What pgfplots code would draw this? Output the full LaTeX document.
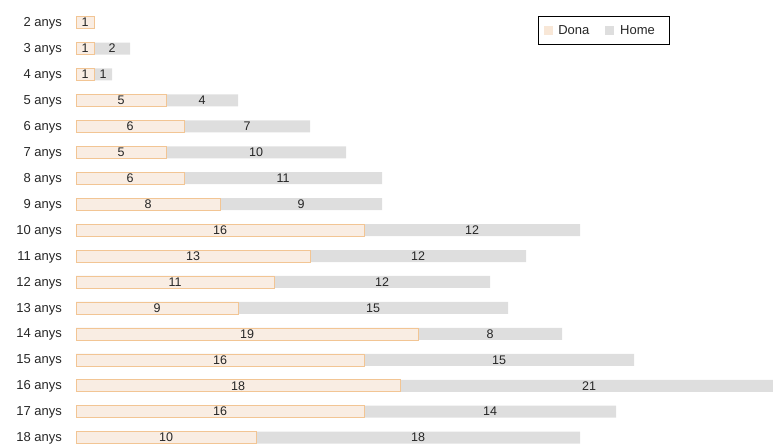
\documentclass[border=0pt]{standalone}
\usepackage{pgfplots}
\pgfplotsset{compat=1.18}
\usepackage{pgfplotstable}
\usepackage{fontspec}
\setmainfont{Liberation Sans}
\definecolor{donafill}{HTML}{F9EDE3}
\definecolor{donaedge}{HTML}{F2C594}
\definecolor{homefill}{HTML}{DEDEDE}
\pgfplotstableread{
y d h tot dmid
0 1 0 1 0.5
1 1 2 3 0.5
2 1 1 2 0.5
3 5 4 9 2.5
4 6 7 13 3
5 5 10 15 2.5
6 6 11 17 3
7 8 9 17 4
8 16 12 28 8
9 13 12 25 6.5
10 11 12 23 5.5
11 9 15 24 4.5
12 19 8 27 9.5
13 16 15 31 8
14 18 21 39 9
15 16 14 30 8
16 10 18 28 5
}\data
\pgfplotstableread{
y h hmid
1 2 2
2 1 1.5
3 4 7
4 7 9.5
5 10 10
6 11 11.5
7 9 12.5
8 12 22
9 12 19
10 12 17
11 15 16.5
12 8 23
13 15 23.5
14 21 28.5
15 14 23
16 18 19
}\homelab
\begin{document}
\begin{tikzpicture}
\useasboundingbox (0,0) rectangle (773pt,447pt);
\begin{axis}[
  at={(76pt,-3.6pt)}, anchor=south west,
  scale only axis, width=697pt, height=441pt,
  xmin=0, xmax=38.72, ymin=-0.5, ymax=16.5,
  y dir=reverse,
  axis line style={draw=none},
  clip=false,
  ytick={0,...,16},
  yticklabels={2 anys,3 anys,4 anys,5 anys,6 anys,7 anys,8 anys,9 anys,10 anys,11 anys,12 anys,13 anys,14 anys,15 anys,16 anys,17 anys,18 anys},
  xtick=\empty,
  major tick length=0pt,
  tick style={draw=none},
  yticklabel style={font=\fontsize{13}{15}\selectfont, text=black!85, xshift=-10.5pt, yshift=-1pt},
  legend style={at={(0.663,0.985)}, anchor=north west, draw=black, line width=0.8pt,
    font=\fontsize{13}{15}\selectfont, text=black!85, legend columns=2,
    inner xsep=5pt, inner ysep=6.5pt},
  legend cell align=left,
]
\addlegendimage{area legend, legend image code/.code={\fill[donafill!85!donaedge] (4pt,-4pt) rectangle (12pt,4pt);}}
\addlegendentry{\hspace*{4pt}Dona\rule{14pt}{0pt}}
\addlegendimage{area legend, legend image code/.code={\fill[homefill] (0pt,-4pt) rectangle (8pt,4pt);}}
\addlegendentry{\hspace*{4pt}Home\rule{8pt}{0pt}}
\addplot[xbar, bar shift=0pt, bar width=12pt, fill=homefill, draw=none, forget plot] table[x=tot, y=y] {\data};
\addplot[xbar, bar shift=0pt, bar width=12pt, fill=donafill, draw=donaedge, line width=0.6pt, forget plot] table[x=d, y=y] {\data};
\addplot[draw=none, mark=none, nodes near coords, point meta=explicit symbolic,
  nodes near coords style={anchor=center, font=\fontsize{12.5}{14}\selectfont, text=black!85}, forget plot]
  table[x=dmid, y=y, meta=d] {\data};
\addplot[draw=none, mark=none, nodes near coords, point meta=explicit symbolic,
  nodes near coords style={anchor=center, font=\fontsize{12.5}{14}\selectfont, text=black!85}, forget plot]
  table[x=hmid, y=y, meta=h] {\homelab};
\end{axis}
\end{tikzpicture}
\end{document}
